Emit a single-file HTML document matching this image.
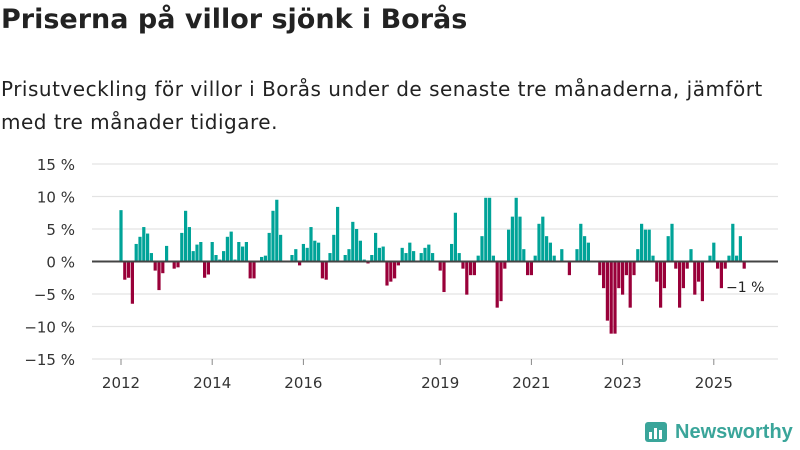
<!DOCTYPE html>
<html><head><meta charset="utf-8"><style>
body{margin:0;background:#fff;width:800px;height:450px;overflow:hidden;font-family:"DejaVu Sans",sans-serif;color:#222}
h1{position:absolute;left:1px;top:4px;margin:0;font-size:27px;font-weight:bold;white-space:nowrap}
p{position:absolute;left:1px;top:73px;margin:0;font-size:20px;line-height:33px;width:800px;white-space:nowrap;letter-spacing:0.5px}
</style></head><body>
<h1>Priserna på villor sjönk i Borås</h1>
<p>Prisutveckling för villor i Borås under de senaste tre månaderna, jämfört<br>med tre månader tidigare.</p>
<svg id="chart" width="800" height="450" style="position:absolute;left:0;top:0;font-family:'DejaVu Sans',sans-serif"></svg>
<div style="position:absolute;left:645px;top:420px;display:flex;align-items:center;gap:6px">
<svg width="24" height="24"><rect x="0" y="2" width="22" height="20" rx="3" fill="#3aa59a"/><rect x="4" y="12" width="3" height="7" fill="#fff"/><rect x="9" y="8" width="3" height="11" fill="#fff"/><rect x="14" y="10" width="3" height="9" fill="#fff"/></svg>
<span style="color:#3aa59a;font-size:20px;font-weight:bold;font-family:'Liberation Sans',sans-serif">Newsworthy</span></div>
<script>
const values=[7.9,-2.8,-2.5,-6.5,2.7,3.8,5.3,4.3,1.3,-1.4,-4.4,-1.8,2.4,0,-1.1,-0.9,4.4,7.8,5.3,1.6,2.6,3.0,-2.5,-2.0,
3.0,1.0,0.3,1.6,3.8,4.6,0.3,3.0,2.3,3.0,-2.6,-2.6,0,0.7,0.9,4.4,7.8,9.5,4.1,0,0,1.0,1.9,-0.6,
2.7,2.1,5.3,3.2,2.9,-2.6,-2.8,1.3,4.1,8.4,0,1.0,1.9,6.1,5.0,3.2,0.3,-0.3,1.0,4.4,2.1,2.3,-3.7,-3.1,
-2.6,-0.6,2.1,1.3,2.9,1.6,0,1.3,2.1,2.6,1.3,0,-1.4,-4.7,0,2.7,7.5,1.3,-1.1,-5.1,-2.1,-2.1,0.9,3.9,
9.8,9.8,0.9,-7.1,-6.1,-1.1,4.9,6.9,9.8,6.9,1.9,-2.1,-2.1,0.9,5.8,6.9,3.9,2.9,0.9,0,1.9,0,-2.1,0,
1.9,5.8,3.9,2.9,0,0,-2.1,-4.1,-9.1,-11.1,-11.1,-4.1,-5.1,-2.1,-7.1,-2.1,1.9,5.8,4.9,4.9,0.9,-3.1,-7.1,-4.1,
3.9,5.8,-1.1,-7.1,-4.1,-1.1,1.9,-5.1,-3.1,-6.1,0,0.9,2.9,-1.1,-4.1,-1.1,0.9,5.8,0.9,3.9,-1.1];
const yTicks=[15,10,5,0,-5,-10,-15];
const yTickLabels=["15 %","10 %","5 %","0 %","−5 %","−10 %","−15 %"];
const xTickMonths=[0,24,48,84,108,132,156];
const xTickLabels=["2012","2014","2016","2019","2021","2023","2025"];
const NS="http://www.w3.org/2000/svg",svg=document.getElementById('chart');
const y=v=>261.5-v*6.5, x=i=>121+i*3.8;
function mk(t,a){const e=document.createElementNS(NS,t);for(const k in a)e.setAttribute(k,a[k]);svg.appendChild(e);return e;}
yTicks.forEach((v,k)=>{
 const g=mk('line',{x1:92,x2:778,y1:y(v),y2:y(v),stroke:'#e3e3e3','stroke-width':1.2});
 
 
 const t=mk('text',{x:75,y:y(v)+6,'text-anchor':'end','font-size':15,fill:'#333'});
 t.textContent=yTickLabels[k];
 
 
});
values.forEach((v,i)=>{
 if(v===0)return;
 const r=mk('rect',{x:x(i)-1.6,width:3.2,y:Math.min(y(v),y(0)),height:Math.abs(y(v)-y(0)),fill:v>0?'#00a398':'#990039'});
 
 
});
const z=mk('line',{x1:92,x2:778,y1:y(0),y2:y(0),stroke:'#444','stroke-width':2});


xTickMonths.forEach((m,k)=>{
 const l=mk('line',{x1:x(m),x2:x(m),y1:359,y2:365,stroke:'#888'});
 
 
 const t=mk('text',{x:x(m),y:388,'text-anchor':'middle','font-size':15,fill:'#333'});
 t.textContent=xTickLabels[k];
 
 
});
const lab=mk('text',{x:726,y:292,'font-size':14,fill:'#222'});
lab.textContent='−1 %';


</script>
</body></html>
